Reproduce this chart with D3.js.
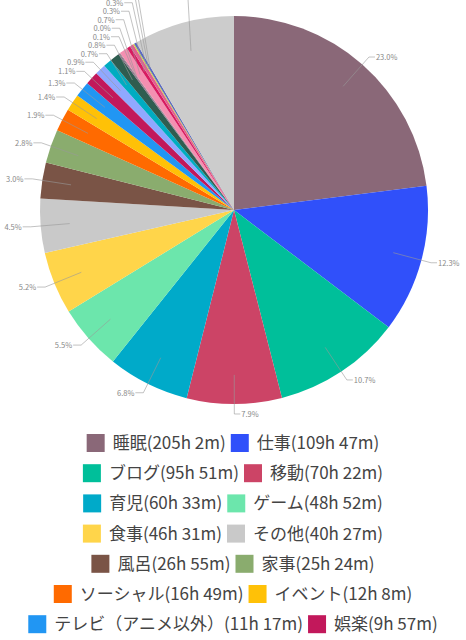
<!DOCTYPE html>
<html><head><meta charset="utf-8">
<script src="https://cdn.jsdelivr.net/npm/d3@7"></script>
<style>body{margin:0;background:#fff;font-family:"Noto Sans CJK JP",Roboto,sans-serif}</style>
</head><body><div id="chart"></div>
<script>
// slices, clockwise from 12 o'clock
var names = ["睡眠","仕事","ブログ","移動","育児","ゲーム","食事","その他","風呂","家事","ソーシャル","イベント","テレビ（アニメ以外）","娯楽","a","b","c","d","e","f","g","h","i","j","k"];
var times = ["205h 2m","109h 47m","95h 51m","70h 22m","60h 33m","48h 52m","46h 31m","40h 27m","26h 55m","25h 24m","16h 49m","12h 8m","11h 17m","9h 57m"];
var percents = [23.0,12.3,10.7,7.9,6.8,5.5,5.2,4.5,3.0,2.8,1.9,1.4,1.3,1.1,0.9,0.7,0.8,0.1,0.0,0.7,0.3,0.3,0.1,0.2,8.4];
var colors = ["#8a6878","#3050fa","#00bf9a","#cc4466","#00aac9","#6ce6ac","#ffd54a","#c9c9c9","#7a5446","#8aac6e","#ff6a00","#ffc107","#2196f3","#c2185b",
              "#90a8ff","#00acc1","#2f5d50","#8e6b8a","#777","#f48fb1","#d81b60","#e06090","#cddc39","#5c6bc0","#cccccc"];
var legendCount = 14;

var W = 466, H = 640, cx = 234, cy = 210, R = 194;
var svg = d3.select("#chart").append("svg").attr("width", W).attr("height", H);
var g = svg.append("g").attr("transform", "translate(" + cx + "," + cy + ")");

var pie = d3.pie().sort(null).value(function(d){ return Math.max(d, 0.05); });
var arcs = pie(percents);
var arc = d3.arc().innerRadius(0).outerRadius(R);

g.selectAll("path.slice").data(arcs).enter().append("path")
  .attr("d", arc).attr("fill", function(d,i){ return colors[i]; });

// label positions, then push apart on the left side
var inner = d3.arc().innerRadius(R*0.85).outerRadius(R*0.85);
var labels = arcs.map(function(d, i){
  var a = (d.startAngle + d.endAngle)/2;
  var rr = R + 10;
  return {i: i, a: a, p0: inner.centroid(d), x: Math.sin(a)*rr, y: -Math.cos(a)*rr, right: Math.sin(a) >= 0};
});
var left = labels.filter(function(l){ return !l.right; }).sort(function(a,b){ return b.y - a.y; });
for (var k = 1; k < left.length; k++) {
  if (left[k-1].y - left[k].y < 8.5) {
    left[k].y = left[k-1].y - 8.5;
    left[k].x += 6;
  }
}
labels.forEach(function(l){
  var p1 = [l.x, l.y];
  var p2 = [l.x + (l.right ? 6 : -8), l.y];
  g.append("polyline").attr("points", [l.p0,p1,p2].map(function(p){return p.join(",");}).join(" "))
    .attr("fill","none").attr("stroke","#999").attr("stroke-width",0.6);
  var tx = p2[0] + (l.right ? 1 : -1);
  var t = g.append("text").attr("x", tx).attr("y", p2[1] + 3)
    .attr("text-anchor", l.right ? "start" : "end")
    .attr("font-size", 7.5).attr("fill", "#888").text(percents[l.i].toFixed(1) + "%");
  var len = t.node().getComputedTextLength();
  if (l.right && cx + tx + len > W - 2) t.attr("x", W - 2 - cx - len);
  if (!l.right && cx + tx - len < 1) t.attr("x", 1 - cx + len);
});

// legend
var rows = [];
for (var i = 0; i < legendCount; i += 2) rows.push([i, i+1]);
rows.forEach(function(r, ri){
  var y = 443 + ri * 30.2;
  var row = svg.append("g");
  var x = 0;
  r.forEach(function(i){
    var item = row.append("g").attr("transform", "translate(" + x + ",0)");
    item.append("rect").attr("x", 0).attr("y", y - 9).attr("width", 18).attr("height", 18).attr("fill", colors[i]);
    var t = item.append("text").attr("x", 26).attr("y", y + 6).attr("font-size", 17).attr("fill", "#444")
      .text(names[i] + "(" + times[i] + ")");
    x += 26 + t.node().getComputedTextLength() + 5;
  });
  var w = x - 5;
  row.attr("transform", "translate(" + ((W - w)/2) + ",0)");
});
</script></body></html>
